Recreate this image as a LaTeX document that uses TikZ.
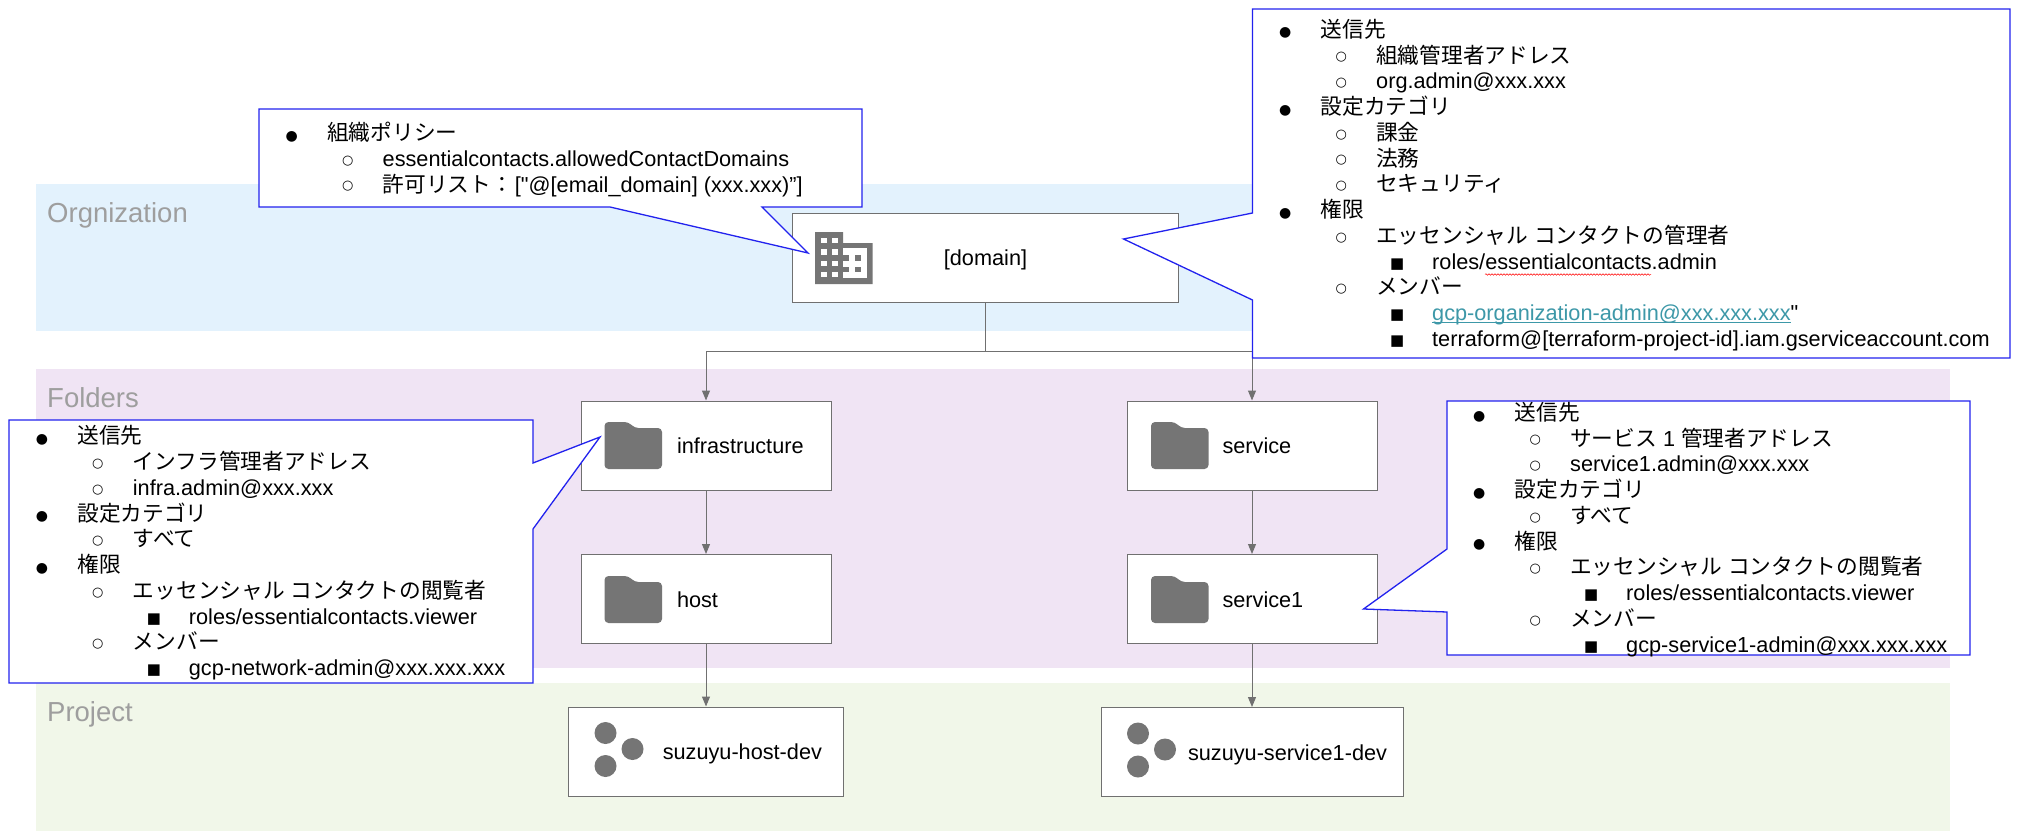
\documentclass[tikz,border=0pt]{standalone}
\usepackage{fontspec}
\setmainfont{Liberation Sans}
\newfontfamily\plain{Liberation Sans}
\newfontfamily\jp{Noto Sans CJK JP}
\newfontfamily\sym{DejaVu Sans}
\usetikzlibrary{arrows.meta,decorations.pathmorphing}

\definecolor{orgband}{HTML}{E3F2FD}
\definecolor{folderband}{HTML}{F0E4F4}
\definecolor{projectband}{HTML}{F1F7E9}
\definecolor{bandtext}{HTML}{9E9E9E}
\definecolor{boxline}{HTML}{707070}
\definecolor{iconfill}{HTML}{757575}
\definecolor{noteline}{HTML}{2222EE}
\definecolor{linktext}{HTML}{3D98A8}

\normallineskiplimit=-100pt
\lineskiplimit=-100pt

\newcommand{\bulletat}[4]{\hspace*{#1pt}\makebox[0pt]{\raisebox{#3pt}{\sym\fontsize{#4}{#4}\selectfont #2}}}
\newcommand{\lva}[1]{\strut\bulletat{15}{●}{0.4}{14}\hspace*{35.5pt}#1}
\newcommand{\lvb}[1]{\strut\bulletat{71}{○}{2.3}{13}\hspace*{35pt}#1}
\newcommand{\lvc}[1]{\strut\bulletat{127}{■}{1}{15}\hspace*{35pt}#1}
\newcommand{\linkline}[1]{\setbox0\hbox{#1}\rlap{\rule[-2.5pt]{\wd0}{1pt}}\box0}

\tikzset{
  band/.style={fill=#1,draw=none},
  bandlabel/.style={anchor=base west,inner sep=0,text=bandtext,font=\fontsize{27.5}{30}\selectfont},
  gcpbox/.style={draw=boxline,fill=white,line width=1pt,inner xsep=0,inner ysep=0,
    text width=#1,minimum height=89,text height=20,text depth=4,align=left},
  conn/.style={draw=boxline,line width=1pt,-{Triangle[length=10pt,width=8pt]}},
  note/.style={draw=noteline,fill=white,line width=1.3pt,line join=miter},
  notetext/.style={anchor=north west,inner sep=0,align=left},
  foldericon/.pic={
    \fill[iconfill,rounded corners=4pt] (0,0) -- (24,0) -- (30,6) -- (57.5,6) -- (57.5,47) -- (0,47) -- cycle;
  },
  projecticon/.pic={
    \fill[iconfill] (0,0) circle (11) (27,16) circle (11) (0,33) circle (11);
  },
}

\begin{document}
\begin{tikzpicture}[x=1pt,y=-1pt,font=\fontsize{21.7}{25.75}\selectfont]
\useasboundingbox (0,0) rectangle (2018,840);
% bands
\fill[band=orgband] (35.5,184) rectangle (1950,331);
\fill[band=folderband] (35.5,369) rectangle (1950,668);
\fill[band=projectband] (35.5,683) rectangle (1950,831);
\node[bandlabel] (orglabel) at (47,222) {Orgnization};
\node[bandlabel] (folderlabel) at (47,407) {Folders};
\node[bandlabel] (projectlabel) at (47,721) {Project};

% resources
\node[gcpbox=386,align=center] (domain) at (985.5,257.5) {[domain]};
\node[gcpbox=250] (infra) at (706,445.5) {\hspace*{96pt}infrastructure};
\node[gcpbox=250] (host) at (706,599) {\hspace*{96pt}host};
\node[gcpbox=250] (service) at (1252,445.5) {\hspace*{95.5pt}service};
\node[gcpbox=250] (serviceone) at (1252,599) {\hspace*{95.5pt}service1};
\node[gcpbox=275.5] (hostdev) at (706,751.5) {\hspace*{94.5pt}suzuyu-host-dev};
\node[gcpbox=302] (servicedev) at (1252,752) {\hspace*{87pt}suzuyu-service1-dev};

% connectors
\coordinate (fork) at (985.5,351.5);
\draw[draw=boxline,line width=1pt] (domain.south) -- (fork);
\draw[conn] (fork) -| (infra.north);
\draw[conn] (fork) -| (service.north);
\draw[conn] (infra) -- (host);
\draw[conn] (host) -- (hostdev);
\draw[conn] (service) -- (serviceone);
\draw[conn] (serviceone) -- (servicedev);

% icons
\foreach \x/\y in {604.5/422,604.5/576,1151/422,1151/576}
  \pic at (\x,\y) {foldericon};
\pic at (605.5,733) {projecticon};
\pic at (1138,733.5) {projecticon};
\fill[iconfill] (815,232) -- (843,232) -- (843,243) -- (872.5,243) -- (872.5,284) -- (815,284) -- cycle;
\fill[white] (843,248) rectangle (867.3,278);
\foreach \x in {820.7,831.7}
  \foreach \y in {237.7,249,260.5,271.7}
    \fill[white] (\x,\y) rectangle ++(6,5.7);
\foreach \x in {843,855}
  \foreach \y in {255,266.7}
    \fill[iconfill] (\x,\y) rectangle ++(5.8,5.7);

% callouts
\draw[note] (259,109) -- (862,109) -- (862,207) -- (762,207) -- (808,253) -- (610,207) -- (259,207) -- cycle;
\draw[note] (1252.5,9) -- (2010,9) -- (2010,358) -- (1252.5,358) -- (1252.5,300) -- (1123.5,239) -- (1252.5,213) -- cycle;
\draw[note] (9,420) -- (533,420) -- (533,463) -- (600,437) -- (533,529) -- (533,683) -- (9,683) -- cycle;
\draw[note] (1447,401) -- (1970,401) -- (1970,655) -- (1447,655) -- (1447,612) -- (1363.5,609) -- (1447,549) -- cycle;

\node[notetext] (policytext) at (276.5,122) {%
\lva{\jp 組織ポリシー}\\
\lvb{essentialcontacts.allowedContactDomains}\\
\lvb{{\jp 許可リスト：}\hspace{2pt}[{\plain"}@[email\_domain] (xxx.xxx)”]}};

\node[notetext] (orgtext) at (1270,18.9) {%
\lva{\jp 送信先}\\
\lvb{\jp 組織管理者アドレス}\\
\lvb{org.admin@xxx.xxx}\\
\lva{\jp 設定カテゴリ}\\
\lvb{\jp 課金}\\
\lvb{\jp 法務}\\
\lvb{\jp セキュリティ}\\
\lva{\jp 権限}\\
\lvb{{\jp エッセンシャル} {\jp コンタクトの管理者}}\\
\lvc{roles/essentialcontacts.admin}\\
\lvb{\jp メンバー}\\
\lvc{\textcolor{linktext}{\linkline{gcp-organization-admin@xxx.xxx.xxx}}{\plain"}}\\
\lvc{terraform@[terraform-project-id].iam.gserviceaccount.com}};
\draw[red,line width=0.5pt,decorate,decoration={snake,amplitude=0.8pt,segment length=3pt}] (1485,274.5) -- (1651,274.5);

\node[notetext] (infratext) at (26.7,425.5) {%
\lva{\jp 送信先}\\
\lvb{\jp インフラ管理者アドレス}\\
\lvb{infra.admin@xxx.xxx}\\
\lva{\jp 設定カテゴリ}\\
\lvb{\jp すべて}\\
\lva{\jp 権限}\\
\lvb{{\jp エッセンシャル} {\jp コンタクトの閲覧者}}\\
\lvc{roles/essentialcontacts.viewer}\\
\lvb{\jp メンバー}\\
\lvc{gcp-network-admin@xxx.xxx.xxx}};

\node[notetext] (servicetext) at (1464,402) {%
\lva{\jp 送信先}\\
\lvb{{\jp サービス} 1 {\jp 管理者アドレス}}\\
\lvb{service1.admin@xxx.xxx}\\
\lva{\jp 設定カテゴリ}\\
\lvb{\jp すべて}\\
\lva{\jp 権限}\\
\lvb{{\jp エッセンシャル} {\jp コンタクトの閲覧者}}\\
\lvc{roles/essentialcontacts.viewer}\\
\lvb{\jp メンバー}\\
\lvc{gcp-service1-admin@xxx.xxx.xxx}};
\end{tikzpicture}
\end{document}
